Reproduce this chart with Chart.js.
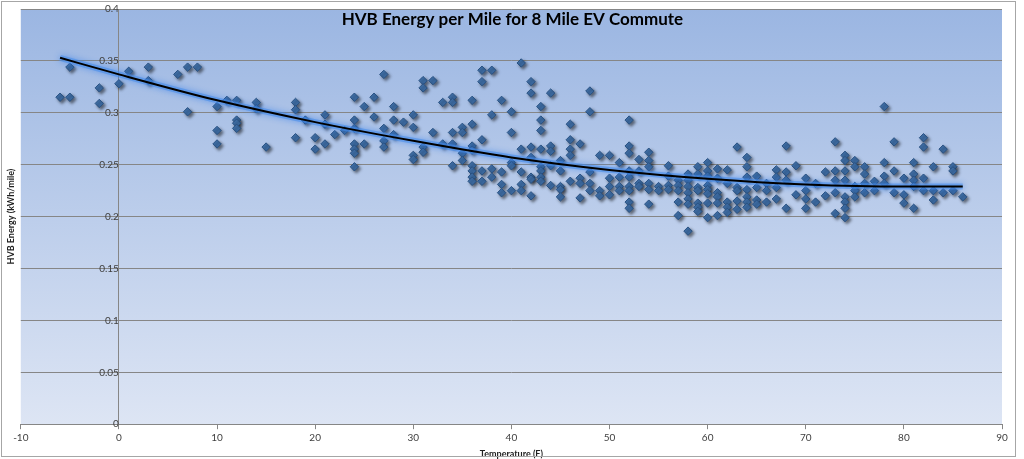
<!DOCTYPE html>
<html>
<head>
<meta charset="utf-8">
<script src="https://cdn.jsdelivr.net/npm/chart.js@4/dist/chart.umd.min.js"></script>
<style>
    html, body { margin: 0; padding: 0; background: #fff; }
    #wrap { position: relative; width: 1024px; height: 459px; }
    #frame { position: absolute; left: 1px; top: 1px; width: 1013px; height: 454px; border: 1px solid #a6a6a6; pointer-events: none; }
</style>
</head>
<body>
<div id="wrap">
    <canvas id="chart" width="1024" height="459"></canvas>
    <div id="frame"></div>
</div>
<script>
// daily commute readings (one row per temperature)
const tempF = [
    -6, -5, -5, -2, -2, 0, 1, 3, 3, 6, 7, 7, 8,
    10, 10, 10, 11, 12, 12, 12, 12, 14, 14, 15,
    18, 18, 18, 19, 20, 20, 21, 21, 21, 22, 23,
    24, 24, 24, 24, 24, 24, 24, 25, 25, 26, 26,
    27, 27, 27, 27, 28, 28, 28, 29,
    30, 30, 30, 30, 31, 31, 31, 31, 32, 32, 33, 33,
    34, 34, 34, 34, 34, 35, 35, 35, 35,
    36, 36, 36, 36, 36, 36, 36, 36,
    37, 37, 37, 37, 37, 38, 38, 38, 38, 39, 39, 39, 39,
    40, 40, 40, 40, 40, 41, 41, 41, 41, 41,
    42, 42, 42, 42, 42, 42, 42,
    43, 43, 43, 43, 43, 43, 43, 43,
    44, 44, 44, 44, 44, 45, 45, 45, 45, 45,
    46, 46, 46, 46, 46, 47, 47, 47, 47,
    48, 48, 48, 48, 48, 49, 49, 49, 50, 50, 50, 50, 51, 51, 51, 51,
    52, 52, 52, 52, 52, 52, 52, 52, 52,
    53, 53, 53, 53, 54, 54, 54, 54, 54, 54, 55, 55,
    56, 56, 56, 56, 57, 57, 57, 57, 57,
    58, 58, 58, 58, 58, 58, 58,
    59, 59, 59, 59, 59, 59, 59,
    60, 60, 60, 60, 60, 60, 60, 60,
    61, 61, 61, 61, 61, 61, 62, 62, 62, 62, 62,
    63, 63, 63, 63, 63, 64, 64, 64, 64, 64, 64, 64,
    65, 65, 65, 65, 66, 66, 66, 67, 67, 67, 67,
    68, 68, 68, 68, 69, 69, 70, 70, 70, 70, 71, 71, 72, 72,
    73, 73, 73, 73, 73, 74, 74, 74, 74, 74, 74, 74, 74,
    75, 75, 75, 75, 75, 76, 76, 76, 76, 77, 77,
    78, 78, 78, 78, 79, 79, 79, 80, 80, 80,
    81, 81, 81, 81, 81, 82, 82, 82, 82,
    83, 83, 83, 84, 84, 85, 85, 85, 86
];
const energyKwhPerMile = [
    0.315, 0.315, 0.344, 0.324, 0.309, 0.328, 0.340, 0.344, 0.331, 0.337, 0.344, 0.301, 0.344,
    0.306, 0.283, 0.270, 0.312, 0.312, 0.293, 0.290, 0.285, 0.310, 0.304, 0.267,
    0.310, 0.303, 0.276, 0.293, 0.276, 0.265, 0.298, 0.289, 0.270, 0.279, 0.283,
    0.315, 0.293, 0.285, 0.270, 0.265, 0.261, 0.248, 0.306, 0.270, 0.296, 0.315,
    0.337, 0.285, 0.273, 0.267, 0.306, 0.293, 0.279, 0.291,
    0.298, 0.286, 0.259, 0.255, 0.331, 0.324, 0.267, 0.262, 0.331, 0.281, 0.310, 0.270,
    0.315, 0.310, 0.281, 0.270, 0.249, 0.286, 0.281, 0.261, 0.254,
    0.312, 0.289, 0.268, 0.264, 0.249, 0.244, 0.238, 0.234,
    0.341, 0.330, 0.274, 0.244, 0.234, 0.341, 0.298, 0.246, 0.238, 0.312, 0.243, 0.231, 0.223,
    0.301, 0.281, 0.252, 0.249, 0.225, 0.348, 0.265, 0.243, 0.231, 0.225,
    0.330, 0.319, 0.267, 0.257, 0.238, 0.236, 0.220,
    0.306, 0.293, 0.283, 0.265, 0.248, 0.244, 0.238, 0.234,
    0.319, 0.268, 0.263, 0.249, 0.230, 0.254, 0.244, 0.229, 0.226, 0.219,
    0.289, 0.274, 0.265, 0.259, 0.234, 0.270, 0.237, 0.232, 0.218,
    0.321, 0.301, 0.243, 0.232, 0.225, 0.259, 0.225, 0.220, 0.259, 0.237, 0.229, 0.221, 0.252, 0.238, 0.229, 0.225,
    0.293, 0.268, 0.261, 0.244, 0.238, 0.229, 0.225, 0.214, 0.208,
    0.255, 0.244, 0.232, 0.229, 0.262, 0.254, 0.248, 0.232, 0.226, 0.212, 0.229, 0.225,
    0.249, 0.239, 0.230, 0.226, 0.235, 0.230, 0.225, 0.214, 0.201,
    0.241, 0.235, 0.229, 0.223, 0.217, 0.212, 0.186,
    0.248, 0.241, 0.228, 0.225, 0.213, 0.209, 0.205,
    0.252, 0.244, 0.239, 0.230, 0.226, 0.222, 0.213, 0.199,
    0.246, 0.237, 0.223, 0.219, 0.213, 0.201, 0.245, 0.232, 0.214, 0.209, 0.204,
    0.267, 0.228, 0.225, 0.215, 0.207, 0.257, 0.248, 0.238, 0.226, 0.219, 0.214, 0.209,
    0.239, 0.228, 0.216, 0.212, 0.232, 0.225, 0.214, 0.245, 0.238, 0.228, 0.217,
    0.268, 0.243, 0.235, 0.208, 0.249, 0.221, 0.237, 0.225, 0.217, 0.208, 0.232, 0.214, 0.243, 0.220,
    0.272, 0.244, 0.235, 0.223, 0.203, 0.259, 0.254, 0.244, 0.235, 0.219, 0.214, 0.208, 0.199,
    0.254, 0.248, 0.229, 0.225, 0.219, 0.248, 0.241, 0.232, 0.223, 0.234, 0.225,
    0.306, 0.252, 0.239, 0.232, 0.272, 0.244, 0.223, 0.237, 0.221, 0.213,
    0.252, 0.241, 0.235, 0.229, 0.208, 0.276, 0.267, 0.237, 0.225,
    0.248, 0.225, 0.216, 0.265, 0.223, 0.248, 0.244, 0.225, 0.219
];

// trend line
const trendTemp = [-6, 0, 10, 20, 30, 40, 50, 60, 70, 80, 86];
const trendEnergy = [0.353, 0.337, 0.312, 0.291, 0.273, 0.257, 0.245, 0.2365, 0.231, 0.229, 0.229];

const axisGray = '#868686';
const fontFamily = 'Lato, "Open Sans", sans-serif';
const trendPoints = trendTemp.map((t, i) => ({ x: t, y: trendEnergy[i] }));

// blue gradient behind the plot area
const plotBackground = {
    id: 'plotBackground',
    beforeDraw(chart) {
        const { ctx, chartArea: a } = chart;
        const g = ctx.createLinearGradient(0, a.top, 0, a.bottom);
        g.addColorStop(0, '#9bb6e2');
        g.addColorStop(1, '#dde5f4');
        ctx.save();
        ctx.fillStyle = g;
        ctx.fillRect(a.left, a.top, a.right - a.left, a.bottom - a.top);
        ctx.restore();
    }
};

// glow under the trend line, drop shadow under the markers
const shadows = {
    id: 'shadows',
    beforeDatasetDraw(chart, args) {
        const ctx = chart.ctx;
        ctx.save();
        if (args.index === 1) {
            ctx.shadowColor = 'rgba(40,120,235,0.9)';
            ctx.shadowBlur = 6;
        } else if (args.index === 2) {
            ctx.shadowColor = 'rgba(0,0,0,0.5)';
            ctx.shadowBlur = 3;
            ctx.shadowOffsetX = 2;
            ctx.shadowOffsetY = 2;
        }
    },
    afterDatasetDraw(chart) {
        chart.ctx.restore();
    }
};

// the title sits inside the plot area
const chartTitle = {
    id: 'chartTitle',
    afterDatasetsDraw(chart) {
        const { ctx, chartArea: a } = chart;
        ctx.save();
        ctx.font = 'bold 17px ' + fontFamily;
        ctx.fillStyle = '#000';
        ctx.textAlign = 'center';
        ctx.textBaseline = 'middle';
        ctx.fillText('HVB Energy per Mile for 8 Mile EV Commute', (a.left + a.right) / 2 + 1, 20);
        ctx.restore();
    }
};

// the y labels sit inside the plot, so they should not push the plot down
function noVerticalPadding(scale) {
    scale.paddingTop = 0;
    scale.paddingBottom = 0;
}

const ctx = document.getElementById('chart').getContext('2d');
const chart = new Chart(ctx, {
    type: 'scatter',
    data: {
        datasets: [{
            type: 'line',
            label: 'Trend',
            data: trendPoints,
            borderColor: '#000',
            borderWidth: 2,
            pointRadius: 0,
            fill: false,
            cubicInterpolationMode: 'monotone'
        }, {
            type: 'line',
            label: 'Trend glow',
            data: trendPoints,
            borderColor: 'rgba(70,140,235,0.55)',
            borderWidth: 6,
            pointRadius: 0,
            fill: false,
            cubicInterpolationMode: 'monotone'
        }, {
            label: 'HVB Energy',
            data: tempF.map((t, i) => ({ x: t, y: energyKwhPerMile[i] })),
            pointStyle: 'rectRot',
            pointRadius: 4.2,
            backgroundColor: '#3f6fa8',
            borderColor: '#2a5282',
            borderWidth: 1
        }]
    },
    options: {
        responsive: false,
        animation: false,
        layout: { padding: { left: 6, right: 22, top: 9, bottom: 0 } },
        plugins: {
            legend: { display: false },
            tooltip: { enabled: false }
        },
        scales: {
            x: {
                type: 'linear',
                min: -10,
                max: 90,
                ticks: { stepSize: 10, color: '#404040', font: { family: fontFamily, size: 10 }, padding: 3 },
                grid: { drawOnChartArea: false, drawTicks: true, tickLength: 5, color: axisGray },
                border: { color: axisGray },
                title: {
                    display: true, text: 'Temperature (F)', color: '#222',
                    font: { family: fontFamily, size: 9, weight: 'bold' },
                    padding: { top: 1, bottom: 0 }
                }
            },
            y: {
                min: 0,
                max: 0.4,
                position: { x: 0 },
                afterFit: noVerticalPadding,
                ticks: {
                    stepSize: 0.05, color: '#404040', font: { family: fontFamily, size: 10 }, padding: 8,
                    callback: v => String(Number(v.toFixed(2)))
                },
                grid: { color: axisGray, drawTicks: false },
                border: { color: axisGray }
            },
            yTitle: {
                type: 'linear',
                position: 'left',
                min: 0,
                max: 0.4,
                afterFit: noVerticalPadding,
                ticks: { display: false },
                grid: { display: false, drawTicks: false },
                border: { display: false },
                title: {
                    display: true, text: 'HVB Energy (kWh/mile)', color: '#222',
                    font: { family: fontFamily, size: 9, weight: 'bold' },
                    padding: { top: 0, bottom: 4 }
                }
            }
        }
    },
    plugins: [plotBackground, shadows, chartTitle]
});
</script>
</body>
</html>
